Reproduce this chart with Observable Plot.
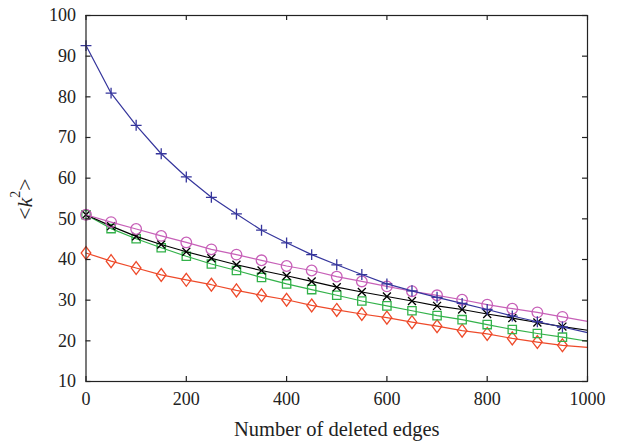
<!DOCTYPE html>
<html>
<head>
<meta charset="utf-8">
<script src="https://cdn.jsdelivr.net/npm/d3@7"></script>
<script src="https://cdn.jsdelivr.net/npm/@observablehq/plot@0.6"></script>
<style>
  html, body { margin: 0; padding: 0; background: #fff; }
  #chart svg { display: block; }
  #chart svg, #chart svg text, #chart svg tspan { font-family: "Liberation Serif", serif !important; }
</style>
</head>
<body>
<div id="chart"></div>
<script>
const edges = [0, 50, 100, 150, 200, 250, 300, 350, 400, 450, 500, 550, 600, 650, 700, 750, 800, 850, 900, 950, 1000];
const bluePlus = [92.6, 80.9, 73.0, 66.0, 60.3, 55.3, 51.2, 47.2, 44.1, 41.2, 38.7, 36.3, 34.0, 32.3, 30.7, 29.2, 27.7, 26.1, 24.7, 23.4, 22.0];
const magentaCircle = [51.0, 49.2, 47.5, 45.8, 44.2, 42.5, 41.2, 39.8, 38.4, 37.3, 35.8, 34.6, 33.4, 32.2, 31.2, 30.1, 28.9, 27.9, 27.0, 25.9, 24.8];
const blackTimes = [51.0, 48.2, 45.7, 43.7, 41.9, 40.3, 38.7, 37.3, 36.0, 34.6, 33.2, 32.0, 30.9, 29.8, 28.6, 27.7, 26.6, 25.6, 24.5, 23.5, 22.6];
const greenSquare = [51.0, 47.6, 45.1, 42.9, 40.8, 38.9, 37.3, 35.6, 34.0, 32.6, 31.2, 29.8, 28.6, 27.4, 26.2, 25.2, 24.0, 22.8, 21.8, 20.9, 19.9];
const redDiamond = [41.6, 39.6, 37.9, 36.2, 35.0, 33.8, 32.4, 31.2, 30.1, 28.7, 27.6, 26.6, 25.7, 24.6, 23.6, 22.5, 21.7, 20.6, 19.7, 18.9, 18.4];
const xTicks = [0, 200, 400, 600, 800, 1000];
const yTicks = [10, 20, 30, 40, 50, 60, 70, 80, 90, 100];
const xLabel = "Number of deleted edges";

const FONT = "Liberation Serif";

// tall diamond symbol
const tallDiamond = {
  draw(context, size) {
    const h = Math.sqrt(size) * 0.56;
    const w = h * 0.75;
    context.moveTo(0, -h);
    context.lineTo(w, 0);
    context.lineTo(0, h);
    context.lineTo(-w, 0);
    context.closePath();
  }
};

const seriesDefs = [
  {name: "red", values: redDiamond, color: "#ee4a2a", symbol: tallDiamond, r: 6.5},
  {name: "green", values: greenSquare, color: "#33b24a", symbol: "square", r: 4.7},
  {name: "black", values: blackTimes, color: "#000000", symbol: "times", r: 3.7},
  {name: "magenta", values: magentaCircle, color: "#c760b8", symbol: "circle", r: 5.3},
  {name: "blue", values: bluePlus, color: "#35359c", symbol: "plus", r: 3.6}
];

const marks = [];
for (const s of seriesDefs) {
  const rows = edges.map((e, i) => ({x: e, y: s.values[i]}));
  marks.push(Plot.line(rows, {x: "x", y: "y", stroke: s.color, strokeWidth: 1.2}));
  marks.push(Plot.dot(rows.filter(d => d.x < 1000), {
    x: "x", y: "y", symbol: () => s.symbol, r: s.r,
    stroke: s.color, fill: "none", strokeWidth: 1.3
  }));
}

const W = 617, H = 445;
const mL = 85.5, mR = 30, mT = 15, mB = 64;
const fw = W - mL - mR, fh = H - mT - mB;

const chart = Plot.plot({
  width: W,
  height: H,
  marginLeft: mL,
  marginRight: mR,
  marginTop: mT,
  marginBottom: mB,
  style: {fontSize: "18px", fontFamily: FONT, color: "#222", background: "#fff"},
  x: {domain: [0, 1000]},
  y: {domain: [10, 100]},
  symbol: {type: "identity"},
  marks: [
    ...marks,
    Plot.frame({stroke: "#222", strokeWidth: 1.2}),
    // inward ticks
    Plot.tickX(xTicks, {x: d => d, insetTop: fh - 5, stroke: "#222", strokeWidth: 1.2}),
    Plot.tickX(xTicks, {x: d => d, insetBottom: fh - 5, stroke: "#222", strokeWidth: 1.2}),
    Plot.tickY(yTicks, {y: d => d, insetRight: fw - 5, stroke: "#222", strokeWidth: 1.2}),
    Plot.tickY(yTicks, {y: d => d, insetLeft: fw - 5, stroke: "#222", strokeWidth: 1.2}),
    Plot.axisX(xTicks, {tickSize: 0, tickPadding: 11, label: null, fontSize: 18, fontFamily: FONT, fill: "#222", tickFormat: d => String(d)}),
    Plot.axisY(yTicks, {tickSize: 0, tickPadding: 10, label: null, fontSize: 18, fontFamily: FONT, fill: "#222", tickFormat: d => String(d)}),
    Plot.text([xLabel], {frameAnchor: "bottom", dy: 48, fontSize: 20.5, fontFamily: FONT, fill: "#222", lineAnchor: "middle"})
  ]
});

document.getElementById("chart").appendChild(chart);

// y-axis label with italic k and superscript 2
const svg = d3.select(chart);
const yl = svg.append("text")
  .attr("transform", `translate(24,199) rotate(-90)`)
  .attr("text-anchor", "middle")
  .attr("dominant-baseline", "central")
  .attr("font-family", FONT)
  .attr("font-size", 22)
  .attr("fill", "#222");
yl.append("tspan").text("<");
yl.append("tspan").attr("font-style", "italic").text("k");
yl.append("tspan").attr("font-size", 14).attr("dy", -9).text("2");
yl.append("tspan").attr("dy", 9).text(">");
</script>
</body>
</html>
